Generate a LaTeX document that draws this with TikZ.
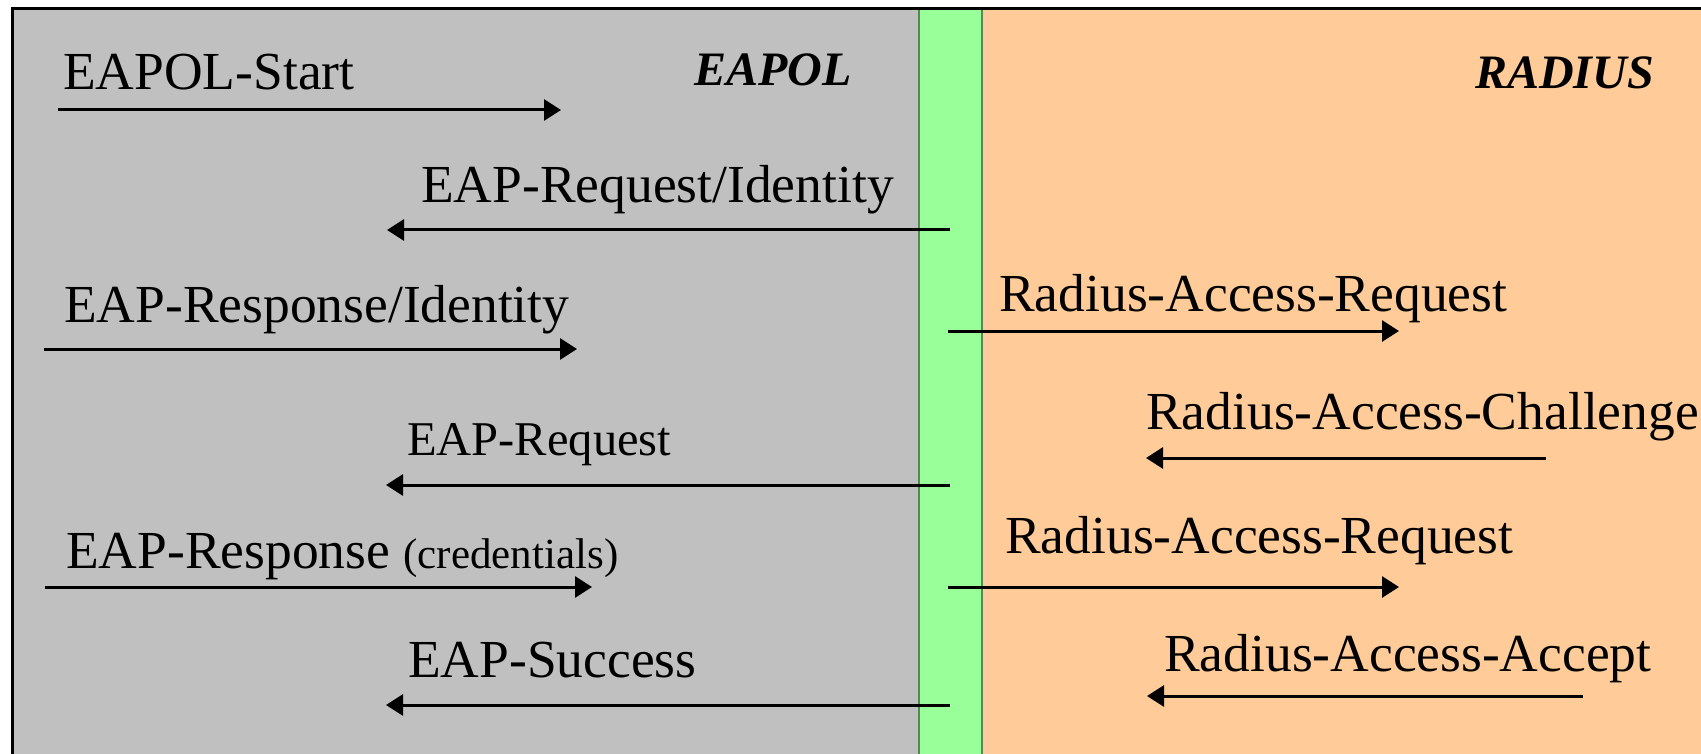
\documentclass[tikz,border=0pt]{standalone}
\usepackage{fontspec}
\setmainfont{Liberation Serif}
\usetikzlibrary{arrows.meta}
\definecolor{panelgray}{RGB}{192,192,192}
\definecolor{bandgreen}{RGB}{153,255,153}
\definecolor{bandedge}{RGB}{90,135,90}
\definecolor{paneorange}{RGB}{255,204,153}
\tikzset{
  msg/.style={anchor=base west, inner sep=0pt, font=\fontsize{53.5}{60}\selectfont},
  smallmsg/.style={anchor=base west, inner sep=0pt, font=\fontsize{48.5}{54}\selectfont},
  side/.style={anchor=base west, inner sep=0pt, font=\fontsize{48}{54}\selectfont\bfseries\itshape},
  flow/.style={line width=3pt, -{Triangle[length=17pt,width=21pt]}},
  frame/.style={line width=3pt, line cap=rect}
}
\begin{document}
\begin{tikzpicture}[x=1pt,y=-1pt]
\useasboundingbox (0,0) rectangle (1701,754);
\fill[white] (0,0) rectangle (1701,754);
% panels
\fill[panelgray] (12,9) rectangle (918,754);
\fill[bandgreen] (918,9) rectangle (983,754);
\fill[paneorange] (983,9) rectangle (1701,754);
\draw[bandedge, line width=2.5pt] (919,9) -- (919,754);
\draw[bandedge, line width=2pt] (982,9) -- (982,754);
\draw[frame] (12,9) -- (1701,9);
\draw[frame] (12,9) -- (12,754);
% headings
\node[side] (heapol) at (694,86) {EAPOL};
\node[side] (hradius) at (1475,89) {RADIUS};
% EAPOL side texts
\node[msg] (t1) at (63,90) {EAPOL-Start};
\node[msg] (t2) at (421,203) {EAP-Request/Identity};
\node[msg] (t3) at (64,322) {EAP-Response/Identity};
\node[smallmsg] (t4) at (407,455) {EAP-Request};
\node[msg] (t5) at (66,568) {EAP-Response {\fontsize{43}{48}\selectfont(credentials)}};
\node[msg] (t6) at (408,677) {EAP-Success};
% RADIUS side texts
\node[msg] (r1) at (999,312) {Radius-Access-Request};
\node[msg] (r2) at (1146,429) {Radius-Access-Challenge};
\node[msg] (r3) at (1005,553) {Radius-Access-Request};
\node[msg] (r4) at (1164,671) {Radius-Access-Accept};
% arrow end points
\coordinate (a1s) at (58,110);  \coordinate (a1e) at (561,110);
\coordinate (a2s) at (950,230); \coordinate (a2e) at (387,230);
\coordinate (a3s) at (44,349);  \coordinate (a3e) at (577,349);
\coordinate (a4s) at (950,485); \coordinate (a4e) at (386,485);
\coordinate (a5s) at (45,587);  \coordinate (a5e) at (592,587);
\coordinate (a6s) at (950,705); \coordinate (a6e) at (386,705);
\coordinate (b1s) at (948,331); \coordinate (b1e) at (1399,331);
\coordinate (b2s) at (1546,458); \coordinate (b2e) at (1146,458);
\coordinate (b3s) at (948,587); \coordinate (b3e) at (1399,587);
\coordinate (b4s) at (1583,696); \coordinate (b4e) at (1147,696);
\draw[flow] (a1s) -- (a1e);
\draw[flow] (a2s) -- (a2e);
\draw[flow] (a3s) -- (a3e);
\draw[flow] (a4s) -- (a4e);
\draw[flow] (a5s) -- (a5e);
\draw[flow] (a6s) -- (a6e);
\draw[flow] (b1s) -- (b1e);
\draw[flow] (b2s) -- (b2e);
\draw[flow] (b3s) -- (b3e);
\draw[flow] (b4s) -- (b4e);
\end{tikzpicture}
\end{document}
